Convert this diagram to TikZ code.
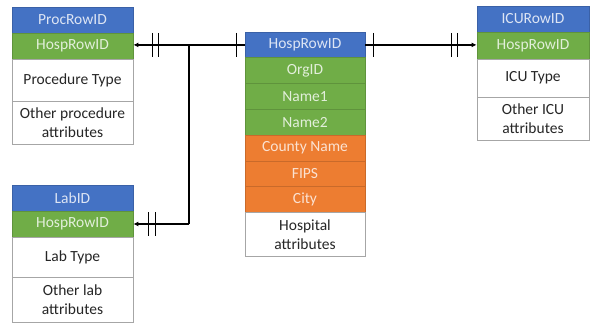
\documentclass[tikz,border=0pt]{standalone}
\usepackage{fontspec}
\setmainfont{Carlito}
\usetikzlibrary{calc,arrows.meta}

\definecolor{keyblue}{HTML}{4472C4}
\definecolor{fkgreen}{HTML}{70AD47}
\definecolor{geoorange}{HTML}{ED7D31}
\definecolor{cellline}{HTML}{A6A6A6}
\definecolor{inktext}{HTML}{262626}

\tikzset{
  cell/.style={draw=cellline, line width=0.8pt, inner sep=0pt, align=center,
    font=\fontsize{15.5}{19}\selectfont, text=inktext},
  bluecell/.style={cell, fill=keyblue, draw=keyblue!85!black, text=white!82!keyblue},
  greencell/.style={cell, fill=fkgreen, draw=fkgreen!85!black, text=white!80!fkgreen},
  orangecell/.style={cell, fill=geoorange, draw=geoorange!85!black, text=white!78!geoorange},
  whitecell/.style={cell, fill=white},
  link/.style={line width=1.6pt, black},
  linkarrow/.style={link, -{Latex[length=5pt,width=5pt]}},
  bar/.style={line width=1.2pt, black},
}

\begin{document}
\begin{tikzpicture}[x=1pt, y=-1pt]
  \useasboundingbox (0,0) rectangle (591,324);
  \fill[white] (0,0) rectangle (591,324);

  % procedure table
  \node[bluecell,  minimum width=121pt, minimum height=26pt] (proc-id)   at (72.5,20)    {ProcRowID};
  \node[greencell, minimum width=121pt, minimum height=26pt] (proc-hosp) at (72.5,46)    {HospRowID};
  \node[whitecell, minimum width=121pt, minimum height=42pt] (proc-type) at (72.5,80)    {Procedure Type};
  \node[whitecell, minimum width=121pt, minimum height=43pt] (proc-other) at (72.5,122.5) {Other procedure\\attributes};

  % lab table
  \node[bluecell,  minimum width=121pt, minimum height=26pt] (lab-id)    at (72.5,198)   {LabID};
  \node[greencell, minimum width=121pt, minimum height=26pt] (lab-hosp)  at (72.5,224)   {HospRowID};
  \node[whitecell, minimum width=121pt, minimum height=40pt] (lab-type)  at (72.5,257)   {Lab Type};
  \node[whitecell, minimum width=121pt, minimum height=45pt] (lab-other) at (72.5,299.5) {Other lab\\attributes};

  % hospital table
  \node[bluecell,   minimum width=120pt, minimum height=25.8pt] (hosp-id)     at (305,44.9)  {HospRowID};
  \node[greencell,  minimum width=120pt, minimum height=25.8pt] (hosp-org)    at (305,70.7)  {OrgID};
  \node[greencell,  minimum width=120pt, minimum height=25.8pt] (hosp-name1)  at (305,96.5)  {Name1};
  \node[greencell,  minimum width=120pt, minimum height=25.8pt] (hosp-name2)  at (305,122.3) {Name2};
  \node[orangecell, minimum width=120pt, minimum height=25.8pt] (hosp-county) at (305,148.1) {County Name};
  \node[orangecell, minimum width=120pt, minimum height=25.8pt] (hosp-fips)   at (305,173.9) {FIPS};
  \node[orangecell, minimum width=120pt, minimum height=25.8pt] (hosp-city)   at (305,199.7) {City};
  \node[whitecell,  minimum width=120pt, minimum height=43.4pt] (hosp-attr)   at (305,234.3) {Hospital\\attributes};

  % ICU table
  \node[bluecell,  minimum width=112pt, minimum height=26pt] (icu-id)    at (533,19)    {ICURowID};
  \node[greencell, minimum width=112pt, minimum height=27pt] (icu-hosp)  at (533,45.5)  {HospRowID};
  \node[whitecell, minimum width=112pt, minimum height=38pt] (icu-type)  at (533,78)    {ICU Type};
  \node[whitecell, minimum width=112pt, minimum height=43pt] (icu-other) at (533,118.5) {Other ICU\\attributes};

  % relationships
  \coordinate (fork) at (189,45);
  \coordinate (bend) at (189,224);
  \draw[linkarrow] (hosp-id.west) -- (proc-hosp.east |- hosp-id.west);
  \draw[link] (fork) -- (bend);
  \draw[linkarrow] (bend) -- (lab-hosp.east);
  \draw[linkarrow] (hosp-id.east) -- (icu-hosp.west |- hosp-id.east);

  % cardinality bars
  \draw[bar] ($(hosp-id.west)+(-8,-12)$) -- ++(0,24);
  \draw[bar] ($(proc-hosp.east|-hosp-id.west)+(19,-12)$) -- ++(0,24);
  \draw[bar] ($(proc-hosp.east|-hosp-id.west)+(25,-12)$) -- ++(0,24);
  \draw[bar] ($(lab-hosp.east)+(15,-12)$) -- ++(0,24);
  \draw[bar] ($(lab-hosp.east)+(22,-12)$) -- ++(0,24);
  \draw[bar] ($(hosp-id.east)+(8,-12)$) -- ++(0,24);
  \draw[bar] ($(icu-hosp.west|-hosp-id.east)+(-25,-12)$) -- ++(0,24);
  \draw[bar] ($(icu-hosp.west|-hosp-id.east)+(-19,-12)$) -- ++(0,24);
\end{tikzpicture}
\end{document}
